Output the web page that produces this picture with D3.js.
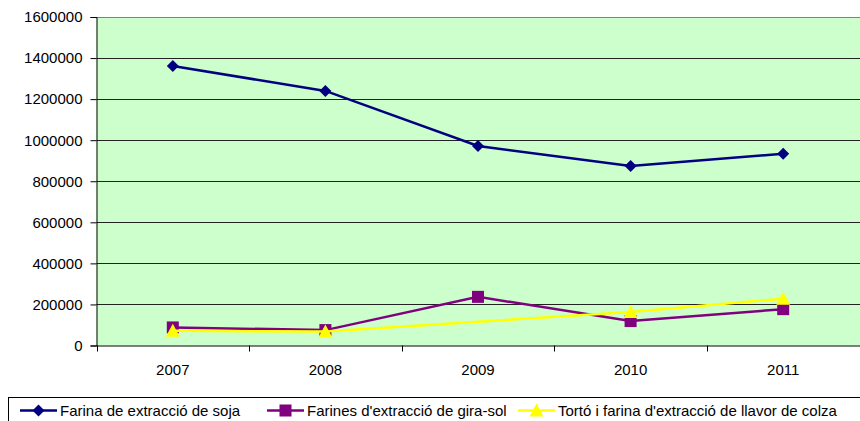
<!DOCTYPE html>
<html><head><meta charset="utf-8">
<script src="https://cdn.jsdelivr.net/npm/d3@7"></script>
<style>body{margin:0;background:#fff}svg{display:block}</style>
</head><body>
<svg id="c" width="860" height="421"></svg>
<script>
const categories = ["2007","2008","2009","2010","2011"];
const soja = [1361000, 1240000, 972000, 874000, 934000];
const giraSol = [88000, 75000, 237000, 119000, 177000];
const colza = [72000, 68000, null, 163000, 228000];
const yTicks = [0,200000,400000,600000,800000,1000000,1200000,1400000,1600000];
const seriesNames = ["Farina de extracció de soja","Farines d'extracció de gira-sol","Tortó i farina d'extracció de llavor de colza"];

const series = [
  {name: seriesNames[0], values: soja, color: "#000080", marker: "diamond"},
  {name: seriesNames[1], values: giraSol, color: "#800080", marker: "square"},
  {name: seriesNames[2], values: colza, color: "#FFFF00", marker: "triangle"}
];

const svg = d3.select("#c");
const L = 96.5, R = 859.5, T = 17, B = 345.5;
const x = d3.scaleBand().domain(categories).range([L, R]);
const y = d3.scaleLinear().domain([0, 1600000]).range([B, T]);
const font = "'Liberation Sans', Arial, sans-serif";
const FS = "15px";

svg.append("rect").attr("x", L).attr("y", T).attr("width", R - L + 5).attr("height", B - T).attr("fill", "#CCFFCC");

// gridlines
svg.append("g").selectAll("line").data(yTicks.filter(d => d > 0)).join("line")
  .attr("x1", L).attr("x2", 860).attr("y1", d => Math.round(y(d)) + 0.5).attr("y2", d => Math.round(y(d)) + 0.5)
  .attr("stroke", d => d === 1600000 ? "#808080" : "#222").attr("stroke-width", 1);

// y axis
const ya = svg.append("g").attr("transform", `translate(${L},0)`)
  .call(d3.axisLeft(y).tickValues(yTicks).tickSize(6).tickPadding(8).tickFormat(d3.format("d")));
ya.select(".domain").attr("stroke", "#000");
ya.selectAll("line").attr("stroke", "#000");
ya.selectAll("text").style("font-size", FS).style("font-family", font).attr("fill", "#000");

// x axis
const xa = svg.append("g").attr("transform", `translate(0,${B})`)
  .call(d3.axisBottom(x).tickSize(0).tickPadding(19));
xa.select(".domain").attr("stroke", "#000").attr("d", `M${L},0.5H860`);
xa.selectAll("text").style("font-size", FS).style("font-family", font).attr("fill", "#000");
const bounds = categories.map((c) => x(c)).concat([x(categories[4]) + x.bandwidth()]);
svg.append("g").selectAll("line").data(bounds).join("line")
  .attr("x1", d => Math.round(d) + 0.5).attr("x2", d => Math.round(d) + 0.5)
  .attr("y1", B).attr("y2", B + 6).attr("stroke", "#000");

const cx = c => x(c) + x.bandwidth() / 2;

function drawMarker(g, type, color, px, py) {
  if (type === "diamond") {
    g.append("path").attr("d", `M${px},${py-6}L${px+6},${py}L${px},${py+6}L${px-6},${py}Z`).attr("fill", color);
  } else if (type === "square") {
    g.append("rect").attr("x", px - 6).attr("y", py - 6).attr("width", 12).attr("height", 12).attr("fill", color);
  } else {
    g.append("path").attr("d", `M${px},${py-7}L${px+7},${py+6}L${px-7},${py+6}Z`).attr("fill", color);
  }
}

const line = d3.line().x(d => cx(d.c)).y(d => y(d.v));
series.forEach(s => {
  const pts = categories.map((c, i) => ({c, v: s.values[i]})).filter(d => d.v != null);
  const g = svg.append("g");
  g.append("path").datum(pts).attr("d", line).attr("fill", "none").attr("stroke", s.color).attr("stroke-width", 2.5);
  pts.forEach(p => drawMarker(g, s.marker, s.color, cx(p.c), y(p.v)));
});

// legend
svg.append("rect").attr("x", 8.5).attr("y", 397.5).attr("width", 900).attr("height", 40)
  .attr("fill", "#fff").attr("stroke", "#000");
const legTextX = [60, 307, 558];
series.forEach((s, i) => {
  const g = svg.append("g");
  const x0 = legTextX[i] - 40;
  g.append("line").attr("x1", x0).attr("x2", x0 + 37).attr("y1", 410.5).attr("y2", 410.5)
    .attr("stroke", s.color).attr("stroke-width", 2.5);
  drawMarker(g, s.marker, s.color, x0 + 18.5, 410.5);
  g.append("text").attr("x", legTextX[i]).attr("y", 416).style("font-family", font).style("font-size", FS)
    .attr("fill", "#000").text(s.name);
});
</script>
</body></html>
